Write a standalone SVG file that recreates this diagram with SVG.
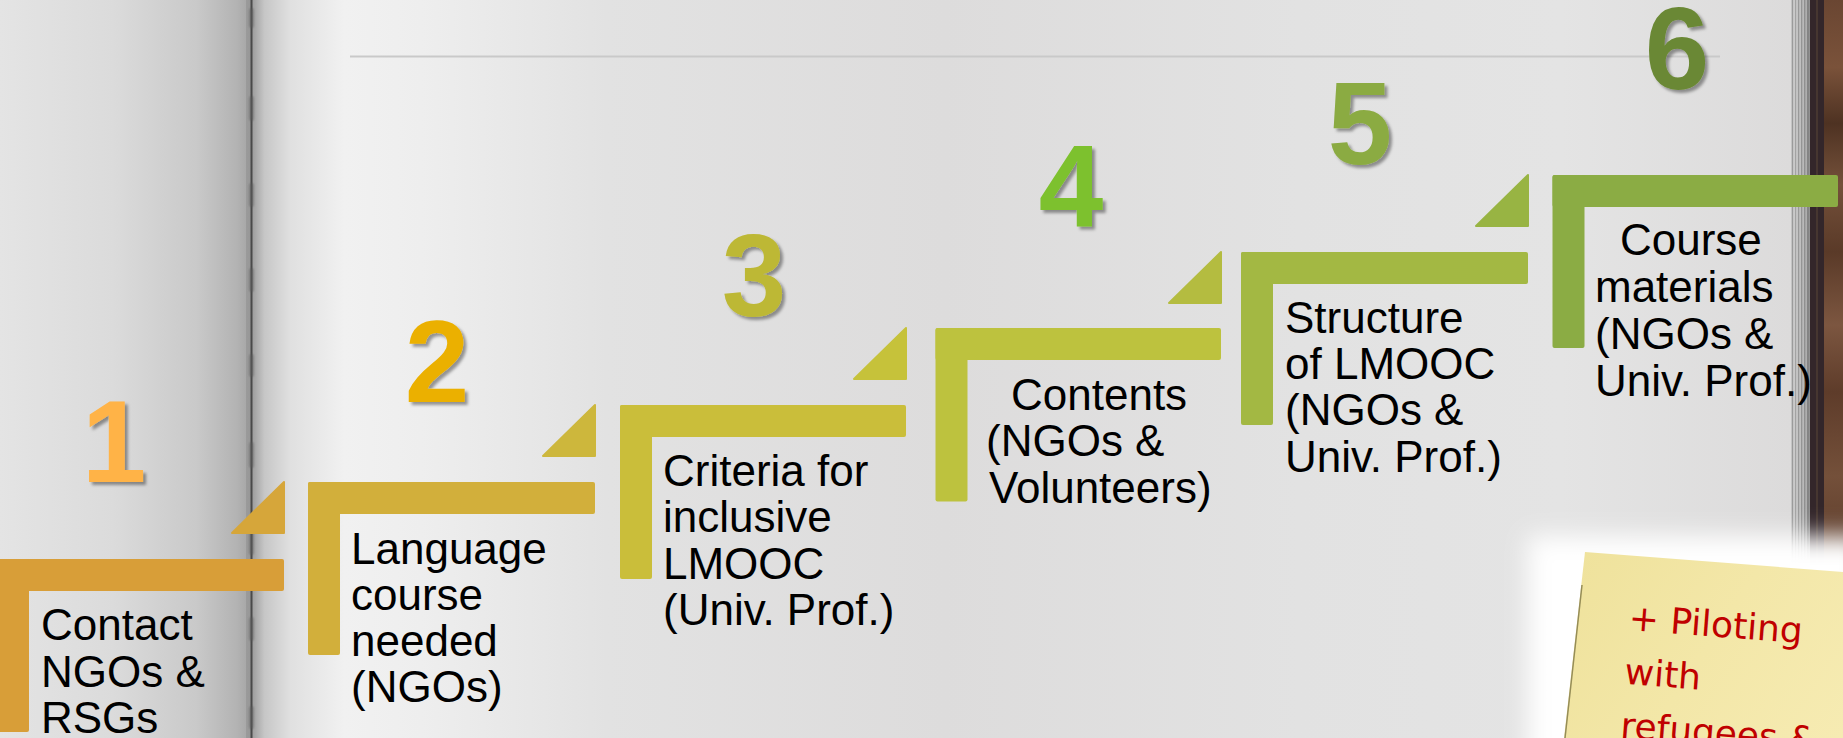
<svg xmlns="http://www.w3.org/2000/svg" width="1843" height="738" viewBox="0 0 1843 738">
  <defs>
    <linearGradient id="leftPage" x1="0" y1="0" x2="252" y2="0" gradientUnits="userSpaceOnUse">
      <stop offset="0" stop-color="#e4e4e4"/>
      <stop offset="0.45" stop-color="#dbdbdb"/>
      <stop offset="0.78" stop-color="#c9c9c9"/>
      <stop offset="0.94" stop-color="#b3b3b3"/>
      <stop offset="1" stop-color="#a2a2a2"/>
    </linearGradient>
    <linearGradient id="rightPage" x1="252" y1="0" x2="1792" y2="0" gradientUnits="userSpaceOnUse">
      <stop offset="0" stop-color="#9c9c9c"/>
      <stop offset="0.008" stop-color="#c6c6c6"/>
      <stop offset="0.025" stop-color="#e0e0e0"/>
      <stop offset="0.06" stop-color="#f1f1f1"/>
      <stop offset="0.11" stop-color="#eeeeee"/>
      <stop offset="0.23" stop-color="#e2e2e2"/>
      <stop offset="0.45" stop-color="#dddcdc"/>
      <stop offset="0.68" stop-color="#e2e2e2"/>
      <stop offset="0.85" stop-color="#e4e4e4"/>
      <stop offset="1" stop-color="#dcdbdb"/>
    </linearGradient>
    <linearGradient id="pageEdges" x1="1791" y1="0" x2="1810" y2="0" gradientUnits="userSpaceOnUse">
      <stop offset="0" stop-color="#d8d8d8"/>
      <stop offset="0.08" stop-color="#9a9a9a"/>
      <stop offset="0.16" stop-color="#dcdcdc"/>
      <stop offset="0.24" stop-color="#a0a0a0"/>
      <stop offset="0.32" stop-color="#d6d6d6"/>
      <stop offset="0.40" stop-color="#959595"/>
      <stop offset="0.48" stop-color="#d0d0d0"/>
      <stop offset="0.56" stop-color="#8e8e8e"/>
      <stop offset="0.64" stop-color="#c8c8c8"/>
      <stop offset="0.72" stop-color="#888888"/>
      <stop offset="0.80" stop-color="#bdbdbd"/>
      <stop offset="0.88" stop-color="#7a7a7a"/>
      <stop offset="1" stop-color="#9a9a9a"/>
    </linearGradient>
    <linearGradient id="wood" x1="0" y1="0" x2="0" y2="560" gradientUnits="userSpaceOnUse">
      <stop offset="0" stop-color="#6a4632"/>
      <stop offset="0.12" stop-color="#7a523a"/>
      <stop offset="0.22" stop-color="#4e3222"/>
      <stop offset="0.33" stop-color="#74503a"/>
      <stop offset="0.45" stop-color="#5a3a28"/>
      <stop offset="0.58" stop-color="#7c5640"/>
      <stop offset="0.70" stop-color="#5e3c2a"/>
      <stop offset="0.85" stop-color="#74503a"/>
      <stop offset="1" stop-color="#5a3a2a"/>
    </linearGradient>
    <linearGradient id="noteFill" x1="1570" y1="560" x2="1843" y2="738" gradientUnits="userSpaceOnUse">
      <stop offset="0" stop-color="#efe29c"/>
      <stop offset="0.5" stop-color="#f3e7a8"/>
      <stop offset="1" stop-color="#f6ebb2"/>
    </linearGradient>
    <filter id="numShadow" x="-20%" y="-20%" width="140%" height="140%">
      <feDropShadow dx="3" dy="3" stdDeviation="1.6" flood-color="#000" flood-opacity="0.38"/>
    </filter>
    <filter id="blur12" x="-30%" y="-30%" width="160%" height="160%">
      <feGaussianBlur stdDeviation="12"/>
    </filter>
    <filter id="blur1" x="-50%" y="-10%" width="200%" height="120%">
      <feGaussianBlur stdDeviation="1.2"/>
    </filter>
    <style>
      .lbl { font-family: "Liberation Sans", Arial, sans-serif; font-size: 44px; fill: #000; }
      .num { font-family: "Liberation Sans", Arial, sans-serif; font-size: 116px; font-weight: bold; text-anchor: middle; filter: url(#numShadow); }
      .note { font-family: "DejaVu Sans", sans-serif; font-size: 36px; fill: #c00000; }
    </style>
  </defs>

  <!-- background: open book -->
  <g id="background">
    <rect x="0" y="0" width="253" height="738" fill="url(#leftPage)"/>
    <rect x="252" y="0" width="1540" height="738" fill="url(#rightPage)"/>
    <rect x="1791" y="0" width="19" height="738" fill="url(#pageEdges)"/>
    <rect x="1810" y="0" width="14" height="738" fill="#33262a"/>
    <rect x="1816" y="0" width="2" height="738" fill="#463630"/>
    <rect x="1824" y="0" width="19" height="738" fill="url(#wood)"/>
    <!-- spine -->
    <rect x="246" y="0" width="6" height="738" fill="#8c8c8c" opacity="0.5"/>
    <line x1="251.5" y1="0" x2="251.5" y2="738" stroke="#4a4a4a" stroke-width="2"/>
    <g fill="#5a5a5a" opacity="0.6" filter="url(#blur1)">
      <rect x="249.5" y="8" width="4" height="20" rx="2"/>
      <rect x="249.5" y="96" width="4" height="25" rx="2"/>
      <rect x="249.5" y="183" width="4" height="24" rx="2"/>
      <rect x="249.5" y="268" width="4" height="24" rx="2"/>
      <rect x="249.5" y="354" width="4" height="23" rx="2"/>
      <rect x="249.5" y="442" width="4" height="26" rx="2"/>
      <rect x="249.5" y="530" width="4" height="25" rx="2"/>
      <rect x="249.5" y="617" width="4" height="24" rx="2"/>
      <rect x="249.5" y="706" width="4" height="23" rx="2"/>
    </g>
    <!-- top rule -->
    <line x1="350" y1="56.5" x2="1720" y2="56.5" stroke="#c9c9c9" stroke-width="2"/>
  </g>

  <g id="connectors"></g>

  <g id="step1">
    <text class="num" x="114" y="482" fill="#ffb347">1</text>
    <path d="M284,482 L284,533 L232,533 Z" fill="#d6a63a" stroke="#d6a63a" stroke-width="2" stroke-linejoin="round"/>
    <rect x="-3" y="559" width="287" height="32" rx="2" fill="#d89e38"/>
    <rect x="-3" y="559" width="32" height="173" rx="2" fill="#d89e38"/>
    <text class="lbl" x="41"><tspan x="41" y="640">Contact</tspan><tspan x="41" y="687">NGOs &amp;</tspan><tspan x="41" y="733">RSGs</tspan></text>
  </g>

  <g id="step2">
    <text class="num" x="437" y="402" fill="#ebb000">2</text>
    <path d="M595,405 L595,456 L543,456 Z" fill="#cdb73c" stroke="#cdb73c" stroke-width="2" stroke-linejoin="round"/>
    <rect x="308" y="482" width="287" height="32" rx="2" fill="#d2af3b"/>
    <rect x="308" y="482" width="32" height="173" rx="2" fill="#d2af3b"/>
    <text class="lbl"><tspan x="351" y="564">Language</tspan><tspan x="351" y="610">course</tspan><tspan x="351" y="656">needed</tspan><tspan x="351" y="702">(NGOs)</tspan></text>
  </g>

  <g id="step3">
    <text class="num" x="754" y="316" fill="#bdb834">3</text>
    <path d="M906,328 L906,379 L854,379 Z" fill="#c6c23a" stroke="#c6c23a" stroke-width="2" stroke-linejoin="round"/>
    <rect x="620" y="405" width="286" height="32" rx="2" fill="#cabe3a"/>
    <rect x="620" y="405" width="32" height="174" rx="2" fill="#cabe3a"/>
    <text class="lbl"><tspan x="663" y="486">Criteria for</tspan><tspan x="663" y="532">inclusive</tspan><tspan x="663" y="579">LMOOC</tspan><tspan x="663" y="625">(Univ. Prof.)</tspan></text>
  </g>

  <g id="step4">
    <text class="num" x="1071" y="226" fill="#7dc12d">4</text>
    <path d="M1221,252 L1221,303 L1169,303 Z" fill="#b4bc40" stroke="#b4bc40" stroke-width="2" stroke-linejoin="round"/>
    <rect x="935.5" y="328" width="285.5" height="32" rx="2" fill="#bdc23e"/>
    <rect x="935.5" y="328" width="32" height="173.5" rx="2" fill="#bdc23e"/>
    <text class="lbl"><tspan x="1011" y="410">Contents</tspan><tspan x="986" y="456">(NGOs &amp;</tspan><tspan x="989" y="503">Volunteers)</tspan></text>
  </g>

  <g id="step5">
    <text class="num" x="1360" y="164" fill="#8bab43">5</text>
    <path d="M1528,175 L1528,226 L1476,226 Z" fill="#98b443" stroke="#98b443" stroke-width="2" stroke-linejoin="round"/>
    <rect x="1241" y="252" width="287" height="32" rx="2" fill="#a3b843"/>
    <rect x="1241" y="252" width="32" height="173" rx="2" fill="#a3b843"/>
    <text class="lbl"><tspan x="1285" y="333">Structure</tspan><tspan x="1285" y="379">of LMOOC</tspan><tspan x="1285" y="425">(NGOs &amp;</tspan><tspan x="1285" y="472">Univ. Prof.)</tspan></text>
  </g>

  <g id="step6">
    <text class="num" x="1677" y="89" fill="#6a8834">6</text>
    <rect x="1552.5" y="175" width="285.5" height="32" rx="2" fill="#8bac44"/>
    <rect x="1552.5" y="175" width="32" height="173" rx="2" fill="#8bac44"/>
    <text class="lbl"><tspan x="1620" y="255">Course</tspan><tspan x="1595" y="302">materials</tspan><tspan x="1595" y="349">(NGOs &amp;</tspan><tspan x="1595" y="396">Univ. Prof.)</tspan></text>
  </g>

  <g id="sticky-note">
    <rect x="1528" y="536" width="340" height="230" fill="#ffffff" filter="url(#blur12)"/>
    <polygon points="1585,552 1843,572 1843,738 1564,738" fill="url(#noteFill)"/>
    <line x1="1582" y1="585" x2="1565" y2="738" stroke="#6f6838" stroke-width="1.5" opacity="0.7"/>
    <g transform="rotate(4.4 1628 630)">
      <text class="note"><tspan x="1628" y="630">+ Piloting</tspan><tspan x="1628" y="684">with</tspan><tspan x="1628" y="738">refugees &amp;</tspan></text>
    </g>
  </g>
</svg>
